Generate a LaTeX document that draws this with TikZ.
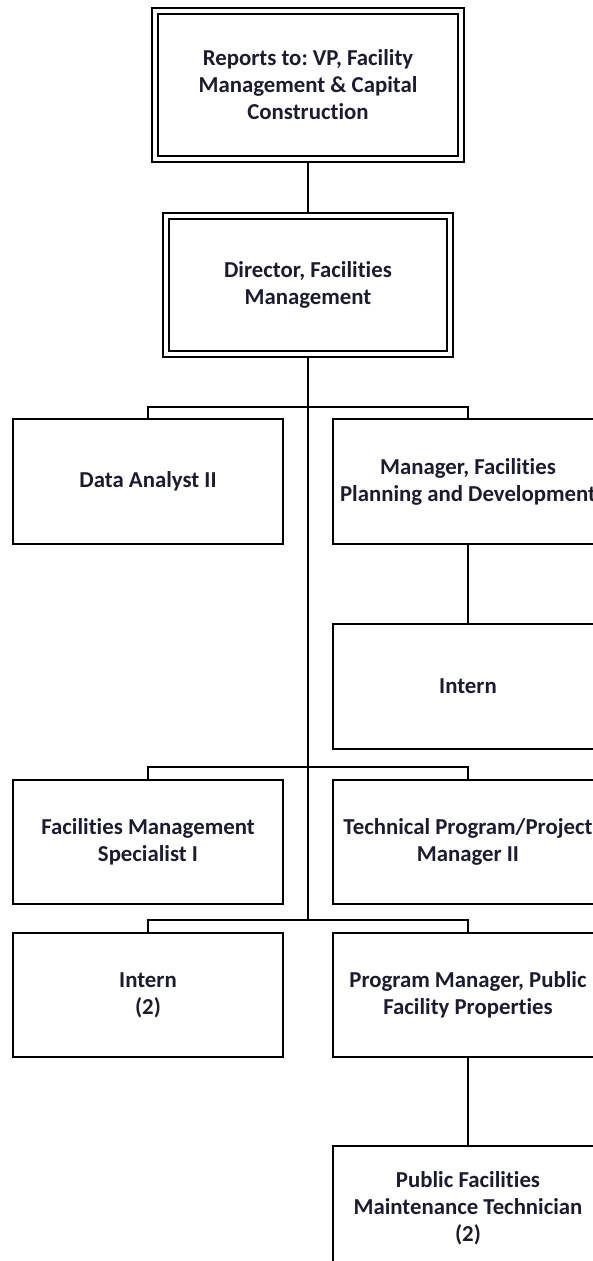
\documentclass[tikz,border=0pt]{standalone}
\usepackage{fontspec}
\setmainfont{Carlito}[Ligatures=NoCommon]
\frenchspacing
\definecolor{txt}{RGB}{28,28,48}
\begin{document}
\begin{tikzpicture}[x=1pt,y=-1pt,
  lw/.style={line width=1.3pt},
  box/.style={draw, lw, rectangle, inner sep=0pt, align=center, text=txt,
    font=\fontsize{22.8}{27}\selectfont\bfseries, minimum width=270pt, minimum height=125pt},
  dbox/.style={box, double, double distance=4.7pt, outer sep=3.65pt},
  conn/.style={lw, line join=miter}]
\useasboundingbox (0,0) rectangle (593,1261);
\clip (0,0) rectangle (593,1261);
\node[dbox, minimum width=306pt, minimum height=148pt] (top) at (308,85) {Reports to: VP, Facility\\Management \& Capital\\Construction};
\node[dbox, minimum width=284pt, minimum height=138pt] (dir) at (308,285) {Director, Facilities\\Management};
\node[box] (da) at (148,481.5) {Data Analyst II};
\node[box] (mgr) at (468,481.5) {Manager, Facilities\\Planning and Development};
\node[box] (int1) at (468,686.5) {Intern};
\node[box, minimum height=124pt] (fms) at (148,842) {Facilities Management\\Specialist I};
\node[box, minimum height=124pt] (tpm) at (468,842) {Technical Program/Project\\Manager II};
\node[box, minimum height=124pt] (int2) at (148,995) {Intern\\(2)};
\node[box, minimum height=124pt] (pm) at (468,995) {Program Manager, Public\\Facility Properties};
\node[box, minimum height=124pt] (pft) at (468,1208) {Public Facilities\\Maintenance Technician\\(2)};
\coordinate (b1) at (308,407);
\coordinate (b2) at (308,767);
\coordinate (b3) at (308,920);
\draw[conn] (top.south) -- (dir.north);
\draw[conn] (dir.south) -- (b3);
\draw[conn] (da.north) |- (b1) -| (mgr.north);
\draw[conn] (mgr.south) -- (int1.north);
\draw[conn] (fms.north) |- (b2) -| (tpm.north);
\draw[conn] (int2.north) |- (b3) -| (pm.north);
\draw[conn] (pm.south) -- (pft.north);
\end{tikzpicture}
\end{document}
